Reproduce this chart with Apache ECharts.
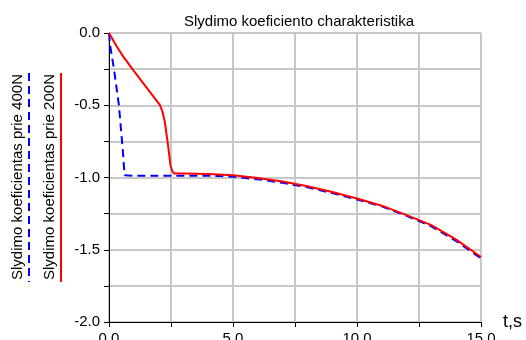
<!DOCTYPE html>
<html>
<head>
<meta charset="utf-8">
<script src="https://cdn.jsdelivr.net/npm/echarts@6/dist/echarts.min.js"></script>
<style>
  html, body { margin: 0; padding: 0; background: #fff; }
  #chart { width: 526px; height: 340px; }
</style>
</head>
<body>
<div id="chart"></div>
<script>
var titleText = 'Slydimo koeficiento charakteristika';
var seriesNames = ['Slydimo koeficientas prie 400N', 'Slydimo koeficientas prie 200N'];

// 400N (blue dashed)
var blueT = [0, 0.05, 0.2, 0.4, 0.55, 0.63, 1, 2, 3, 4, 4.5, 5, 6, 7, 8, 9, 10, 11, 12, 13, 14, 15];
var blueY = [0, -0.09, -0.25, -0.5, -0.8, -0.985, -0.988, -0.988, -0.988, -0.988, -0.99, -0.995, -1.012, -1.037, -1.068, -1.108, -1.152, -1.2, -1.265, -1.338, -1.44, -1.56];

// 200N (red solid)
var redT = [0, 0.3, 0.57, 0.97, 1.3, 1.64, 2.05, 2.15, 2.25, 2.38, 2.48, 2.55, 2.62, 3, 4, 5, 6, 7, 8, 9, 10, 11, 12, 13, 14, 15];
var redY = [0, -0.09, -0.162, -0.255, -0.33, -0.405, -0.498, -0.54, -0.614, -0.776, -0.915, -0.955, -0.972, -0.972, -0.976, -0.985, -1.003, -1.028, -1.06, -1.1, -1.145, -1.195, -1.26, -1.33, -1.43, -1.55];

var xName = 't,s';

const pairs = (xs, ys) => xs.map((x, i) => [x, ys[i]]);

var chart = echarts.init(document.getElementById('chart'));

var option = {
    backgroundColor: '#fff',
    animation: false,
    title: {
        text: titleText,
        left: 294,
        top: 9,
        textAlign: 'center',
        textStyle: {
            fontFamily: 'Liberation Sans',
            fontSize: 15,
            fontWeight: 'normal',
            color: '#000'
        }
    },
    grid: {
        left: 109,
        right: 45,
        top: 33,
        bottom: 18,
        outerBoundsMode: 'none',
        containLabel: false,
        show: true,
        borderColor: '#000',
        borderWidth: 1
    },
    xAxis: {
        type: 'value',
        min: 0,
        max: 15,
        interval: 2.5,
        name: xName,
        nameLocation: 'end',
        nameGap: 22,
        nameTextStyle: {
            fontFamily: 'Liberation Sans',
            fontSize: 18,
            color: '#000',
            padding: [18, 0, 0, 0]
        },
        axisLine: { show: true, onZero: false, lineStyle: { color: '#000', width: 1 } },
        axisTick: { show: true, length: 5, lineStyle: { color: '#000' } },
        axisLabel: {
            fontFamily: 'Liberation Sans',
            fontSize: 15,
            color: '#000',
            margin: 9,
            showMaxLabel: true,
            formatter: function (v) {
                return Math.abs(v / 5 - Math.round(v / 5)) < 1e-6 ? v.toFixed(1) : '';
            }
        },
        splitLine: { show: true, lineStyle: { color: '#c8c8c8', width: 2 } }
    },
    yAxis: {
        type: 'value',
        min: -2,
        max: 0,
        interval: 0.25,
        axisLine: { show: true, onZero: false, lineStyle: { color: '#000', width: 1 } },
        axisTick: { show: true, length: 5, lineStyle: { color: '#000' } },
        axisLabel: {
            fontFamily: 'Liberation Sans',
            fontSize: 15,
            color: '#000',
            margin: 9,
            formatter: function (v) {
                return Math.abs(v * 2 - Math.round(v * 2)) < 1e-6 ? v.toFixed(1) : '';
            }
        },
        splitLine: { show: true, lineStyle: { color: '#c8c8c8', width: 2 } }
    },
    graphic: [
        {
            type: 'text',
            x: 18, y: 177,
            rotation: Math.PI / 2,
            style: {
                text: seriesNames[0],
                fill: '#000',
                font: '15px "Liberation Sans"',
                align: 'center',
                verticalAlign: 'middle'
            }
        },
        {
            type: 'line',
            shape: { x1: 29, y1: 73, x2: 29, y2: 282 },
            style: { stroke: '#0000ff', lineWidth: 2, lineDash: [8, 5] }
        },
        {
            type: 'text',
            x: 50, y: 177,
            rotation: Math.PI / 2,
            style: {
                text: seriesNames[1],
                fill: '#000',
                font: '15px "Liberation Sans"',
                align: 'center',
                verticalAlign: 'middle'
            }
        },
        {
            type: 'line',
            shape: { x1: 61, y1: 73, x2: 61, y2: 282 },
            style: { stroke: '#ff0000', lineWidth: 2 }
        }
    ],
    series: [
        {
            name: seriesNames[0],
            type: 'line',
            data: pairs(blueT, blueY),
            showSymbol: false,
            lineStyle: { color: '#0000ff', width: 2, type: [8, 5] },
            z: 2
        },
        {
            name: seriesNames[1],
            type: 'line',
            data: pairs(redT, redY),
            showSymbol: false,
            lineStyle: { color: '#ff0000', width: 2 },
            z: 3
        }
    ]
};

chart.setOption(option);
</script>
</body>
</html>
